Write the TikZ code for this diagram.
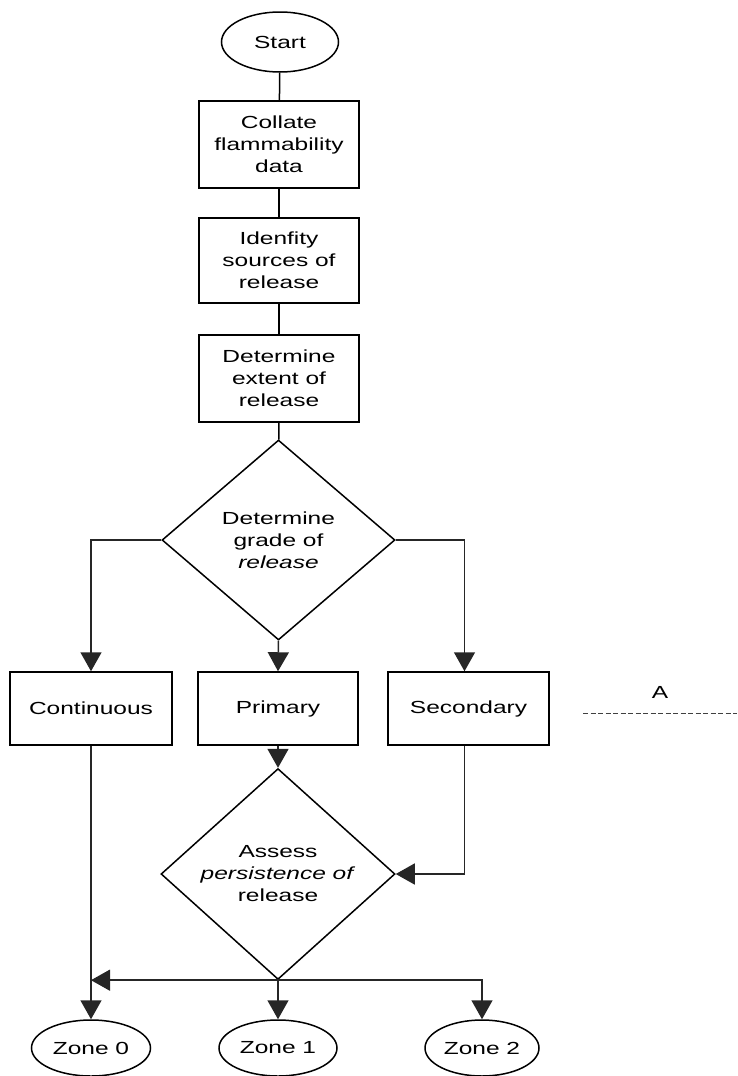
\documentclass[tikz,border=0pt]{standalone}
\usepackage{fontspec}
\setmainfont{Liberation Sans}[FakeStretch=1.4]
\usetikzlibrary{shapes.geometric,arrows.meta}
\begin{document}
\begin{tikzpicture}[x=1pt, y=-1pt, line width=1.5pt,
    every node/.style={font=\fontsize{17.5}{22}\selectfont, align=center}]
  \tikzstyle{box}=[rectangle, draw, minimum width=160pt, minimum height=86pt, inner sep=2pt]
  \tikzstyle{gradebox}=[rectangle, draw, minimum width=161pt, minimum height=73pt, inner sep=2pt]
  \tikzstyle{terminal}=[ellipse, draw, minimum width=117pt, minimum height=56pt, inner sep=0pt]
  \tikzstyle{decision}=[diamond, draw, minimum width=233pt, minimum height=200pt, inner sep=0pt]
  \tikzstyle{flow}=[-{Triangle[width=21pt,length=19pt]}, draw=black!85]
  \useasboundingbox (0,0) rectangle (737,1076);

  % top chain
  \node[terminal, minimum height=60pt] (start) at (280,42) {Start};
  \node[box, minimum height=87pt] (collate) at (279,144.5) {Collate\\flammability\\data};
  \node[box, minimum height=85pt] (sources) at (279,260.5) {Idenfity\\sources of\\release};
  \node[box, minimum height=87pt] (extent) at (279,378.5) {Determine\\extent of\\release};
  \node[decision] (grade) at (278.5,540) {Determine\\grade of\\\textit{release}};

  % grades of release
  \node[gradebox, minimum width=162pt] (cont) at (91,708.5) {Continuous};
  \node[gradebox, minimum width=160pt] (prim) at (278,708.5) {Primary};
  \node[gradebox] (sec) at (468.5,708.5) {Secondary};

  \node[decision, minimum width=234pt] (persist) at (278,874) {Assess\\\textit{persistence of}\\release};

  % zones
  \node[terminal, minimum width=119pt] (zone0) at (91,1048) {Zone 0};
  \node[terminal, minimum width=118pt] (zone1) at (278,1048) {Zone 1};
  \node[terminal, minimum width=114pt] (zone2) at (482,1048) {Zone 2};

  % side note
  \node (alabel) at (660,692) {A};
  \coordinate (aleft) at (583,713);
  \coordinate (aright) at (737,713);
  \draw[line width=0.9pt, dash pattern=on 5pt off 2.5pt, black!75] (aleft) -- (aright);

  \draw (start) -- (collate);
  \draw (collate) -- (sources);
  \draw (sources) -- (extent);
  \draw (extent) -- (grade);

  \draw[flow] (grade.west) -| (cont.north);
  \draw[flow] (grade.south) -- (prim.north);
  \draw[flow] (grade.east) -| ([xshift=-4pt]sec.north);
  \draw[flow] (prim.south) -- (persist.north);
  \draw[flow] ([xshift=-4pt]sec.south) |- (persist.east);
  \draw[flow] (cont.south) -- (zone0.north);
  \draw[flow] (persist.south) -- (persist.south -| cont.south);
  \draw[flow] (persist.south) -- (zone1.north);
  \draw[flow] (persist.south) -| (zone2.north);
\end{tikzpicture}
\end{document}
